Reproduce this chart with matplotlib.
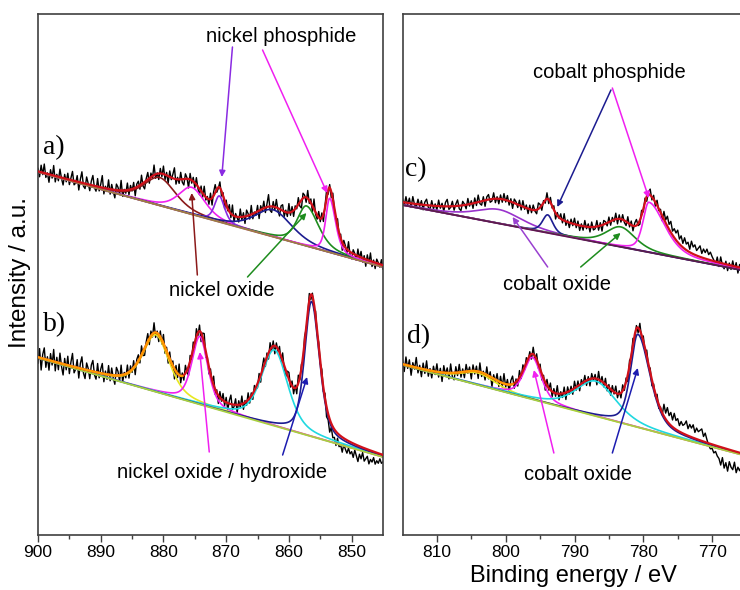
import numpy as np
import matplotlib.pyplot as plt

plt.rcParams['font.family'] = ['Liberation Sans', 'DejaVu Sans']

# measured energy grids (0.25 eV step)
energy_ni = 900 - 0.25 * np.arange(221)
energy_co = 815 - 0.25 * np.arange(201)

# ---- a) Ni 2p, phosphide sample ----
base_a = (363, 268)
cent_a = [880.6, 875.5, 871.1, 862.5, 857.2, 853.5]
high_a = [28, 27, 26, 27, 40, 54]
whi_a = [6.0, 5.0, 1.8, 7.0, 3.5, 1.5]
wlo_a = [6.0, 5.0, 2.0, 7.0, 4.5, 2.2]
noise_a = [3, -5, 7, -2, 9, -4, 1, -8, 5, -3, 10, -6, 2, -4, 8, -1, -7, 4, -3, 6,
           -5, 2, 9, -4, -2, 6, -8, 3, 11, -3, -5, 7, 1, -6, 4, 10, -2, -5, 8, -4,
           3, 12, -6, 2, -3, 9, -5, 5, -2, -8, 6, 3, -4, 10, -6, 1, -3, 7, -5, 4,
           -2, 6, -8, 3, 5, -4, 9, -3, -7, 2, 7, -5, 4, -2, 10, -4, 1, -6, 5, -3,
           8, -5, 3, -7, 6, -2, 4, 11, -5, 2, -4, 7, -3, -6, 5, 1, -9, 6, -3, 4,
           -5, 7, -2, -6, 5, -4, 9, -3, 2, -5, 6, -7, 4, 8, -3, -1, 6, -5, 3, -8,
           5, -2, 7, -4, 10, -6, 3, -1, -5, 8, -3, 4, -7, 6, 2, -4, 9, -5, 1, -3,
           6, -8, 4, -2, 7, -5, 3, 12, -4, -6, 5, -3, 8, -2, -7, 4, 6, -5, 2, -4,
           9, -3, 5, -6, 3, -2, 7, -4, -8, 5, 2, -5, 8, -3, 4, -6, 10, -2, -4, 6,
           -3, 5, -7, 2, 8, -4, 3, -6, 6, -1, -5, 7, -3, 4, -8, 5, 2, -4, 9, -3,
           -6, 4, 1, -5, 7, -2, 6, -4, 3, -7, 5, -3, 8, -5, 2, -6, 4, 1, -3, 5,
           -4]

# ---- b) Ni 2p, oxide / hydroxide sample ----
base_b = (177, 78)
cent_b = [881.2, 874.2, 862.3, 856.4]
high_b = [57, 68, 76, 135]
whi_b = [5.0, 3.0, 5.0, 2.6]
wlo_b = [5.0, 3.0, 5.0, 3.0]
noise_b = [-6, 9, -12, 4, 11, -8, 3, -10, 7, -4, 12, -9, 5, -7, 10, -3, -11, 6, -5, 9,
           -8, 4, 13, -6, -2, 8, -10, 5, 12, -4, -9, 7, 2, -8, 6, 11, -3, -7, 9, -5,
           4, 10, -8, 3, -5, 9, -6, 7, -3, -9, 8, 4, -6, 10, -7, 2, -4, 8, -6, 5,
           -3, 7, -9, 4, 6, -5, 9, -4, -7, 3, 8, -6, 5, -3, 10, -5, 2, -7, 6, -4,
           9, -6, 4, -8, 7, -3, 5, -10, 6, -4, 11, -7, 3, -5, 8, -2, -9, 6, -4, 7,
           -5, 8, -3, 6, -9, 4, 10, -6, 2, -7, 5, -3, 9, -5, 3, -8, 6, -2, 7, -4,
           5, -7, 3, 9, -5, -2, 6, -8, 4, -3, 8, -6, 2, -4, 7, -5, 3, -6, 5, -2,
           -4, 6, -7, 3, 8, -5, 4, -6, 7, -3, 5, -8, 4, -2, 6, -5, 8, -3, -6, 4,
           7, -4, 5, -6, 3, -7, 8, -3, 4, -5, 6, -2, -4, 7, -5, 3, -6, 5, -3, 4,
           -2, 6, -4, 5, -10, -6, -13, -4, -11, -8, -14, -5, -12, -9, -15, -6, -10, -13, -7, -12,
           -9, -14, -6, -11, -16, -8, -12, -5, -13, -10, -7, -14, -9, -11, -6, -12, -8, -10, -5, -9,
           -7]

# ---- c) Co 2p, phosphide sample ----
base_c = (330, 264)
cent_c = [801.0, 793.9, 783.3, 779.2]
high_c = [14, 18, 20, 50]
whi_c = [8.0, 1.8, 5.0, 2.0]
wlo_c = [8.0, 1.8, 5.0, 5.5]
sat_c = (795.0, 13, 22.0)  # broad satellite (in envelope only)
noise_c = [4, -3, 6, -2, 5, -4, 7, -1, -3, 5, -2, 4, -5, 3, 6, -2, -4, 5, -3, 2,
           -4, 6, -2, 3, -5, 4, 7, -3, -1, 5, -4, 2, 6, -3, -5, 4, 1, -4, 6, -2,
           3, -5, 5, -3, 7, -2, -4, 4, -6, 3, 5, -3, -2, 6, -4, 2, -5, 4, -3, 6,
           -2, 5, -4, 3, -6, 4, 2, -3, 5, -4, 6, -2, 3, -5, 4, -3, 5, -1, -4, 6,
           3, -5, 2, -3, 6, -4, 5, -2, 4, -6, 3, -1, 5, -3, 7, -4, 2, -5, 4, -2,
           6, -3, 4, -5, 2, -4, 6, -2, 3, -5, 5, -3, -2, 6, -4, 3, -6, 4, 2, -3,
           5, -4, 3, -2, 6, -5, 4, -3, 5, -2, -4, 6, -3, 4, -5, 3, 6, -2, -4, 5,
           -3, 4, -5, 2, 6, -3, 4, -4, 5, -2, 3, -5, 8, 3, 10, 5, 11, 4, 9, 7,
           12, 5, 10, 4, 11, 6, 9, 3, 12, 7, 10, 5, 8, 11, 4, 9, 6, 10, 5, 8,
           4, 1, -3, 5, -4, 6, -2, -5, 3, -6, 2, -4, 5, -3, 4, -6, 3, -2, 5, -4,
           2]

# ---- d) Co 2p, oxide sample ----
base_d = (170, 79)
cent_d = [804.0, 796.1, 786.9, 780.8]
high_d = [12, 42, 35, 93]
whi_d = [6.0, 3.0, 7.0, 2.5]
wlo_d = [6.0, 3.0, 7.0, 4.2]
noise_d = [5, -7, 8, -3, 6, -9, 4, -2, 10, -5, 3, -8, 6, -4, 9, -6, 2, -7, 5, -3,
           8, -5, 4, -9, 7, -2, 5, -6, 9, -4, -7, 6, -3, 8, -5, 3, -6, 7, -2, 4,
           -8, 6, -3, 5, -7, 9, -4, 2, -6, 8, -3, 5, -9, 4, -2, 7, -5, 6, -4, 10,
           -3, 5, -7, 4, 8, -5, 3, -6, 7, -4, 6, -3, 5, -2, 4, -5, 7, -3, 6, -4,
           5, -6, 3, -8, 6, -2, 7, -5, 4, -3, 8, -6, 2, -4, 6, -7, 5, -3, 4, -5,
           7, -3, 5, -6, 4, -2, 6, -5, 3, -7, 5, -2, 4, -6, 8, -3, 5, -4, 6, -5,
           3, -6, 5, -2, 7, -4, 3, -5, 6, -3, 4, -7, 5, -2, 6, -4, 3, -5, 7, -3,
           5, -4, 6, -2, 4, -6, 3, -3, 5, -4, 2, -2, 12, 6, 14, 8, 13, 7, 15, 9,
           12, 6, 11, 8, 10, 14, 7, 12, 9, 13, 6, 11, 8, 10, 12, 5, 9, 3, -2, -5,
           -4, -8, -6, -10, -12, -18, -10, -20, -14, -22, -12, -17, -19, -11, -21, -15, -18, -13, -20, -16,
           -19]


def pv(E, c, h, w_hi, w_lo, eta=0.5):
    w = np.where(E >= c, w_hi, w_lo)
    u = (E - c) / w
    return h * (eta / (1 + 4 * u**2) + (1 - eta) * np.exp(-4 * np.log(2) * u**2))


def spectrum(ax, E_raw, noise, base, cents, highs, whis, wlos, colors, base_col,
             orange_from=None, sat=None):
    E0, E1 = E_raw[0], E_raw[-1]
    fine = np.linspace(E0, E1, 1101)
    bl = lambda E: base[0] + (base[1] - base[0]) * (E0 - E) / (E0 - E1)
    comps = [pv(fine, c, h, a, b) for c, h, a, b in zip(cents, highs, whis, wlos)]
    raw = sum(pv(E_raw, c, h, a, b) for c, h, a, b in zip(cents, highs, whis, wlos))
    env = bl(fine) + sum(comps)
    if sat is not None:
        env = env + pv(fine, sat[0], sat[1], sat[2], sat[2])
        raw = raw + pv(E_raw, sat[0], sat[1], sat[2], sat[2])
    ax.plot(E_raw, bl(E_raw) + raw + np.array(noise), color='black', lw=1.0, zorder=1)
    for comp, col in zip(comps, colors):
        ax.plot(fine, bl(fine) + comp, color=col, lw=1.2, zorder=2)
    ax.plot(fine, bl(fine), color=base_col, lw=1.3, zorder=2.5)
    ax.plot(fine, env, color='#D0101A', lw=1.6, zorder=3)
    if orange_from is not None:
        m = fine >= orange_from
        ax.plot(fine[m], env[m], color='#FF9A00', lw=1.6, zorder=3.5)


def arrow(ax, start, end, col):
    ax.annotate('', xy=end, xytext=start,
                arrowprops=dict(arrowstyle='-|>', color=col, lw=1.1,
                                mutation_scale=9, shrinkA=0, shrinkB=0), zorder=5)


MAG, NAVY, VIO, GRN, BRN = '#F020F0', '#1C1C90', '#8A2BE2', '#1E8C1E', '#8B1A1A'
YEL, CYN = '#E8E820', '#20D8E0'

fig = plt.figure(figsize=(7.4, 5.9), dpi=100)
axL = fig.add_axes([38 / 740, 55 / 590, 345 / 740, 521 / 590])
axR = fig.add_axes([402.5 / 740, 55 / 590, 344 / 740, 521 / 590])

spectrum(axL, energy_ni, noise_a, base_a, cent_a, high_a, whi_a, wlo_a,
         [BRN, MAG, VIO, NAVY, GRN, MAG], '#9C8040')
spectrum(axL, energy_ni, noise_b, base_b, cent_b, high_b, whi_b, wlo_b,
         [YEL, MAG, CYN, NAVY], '#A8D040', orange_from=877)
spectrum(axR, energy_co, noise_c, base_c, cent_c, high_c, whi_c, wlo_c,
         ['#9932CC', NAVY, GRN, MAG], '#5A1E4A', sat=sat_c)
spectrum(axR, energy_co, noise_d, base_d, cent_d, high_d, whi_d, wlo_d,
         [YEL, MAG, CYN, NAVY], '#A8D040', orange_from=799)

for ax, lim in ((axL, (900, 845)), (axR, (815, 765))):
    ax.set_xlim(*lim)
    ax.set_ylim(0, 521)
    ax.set_yticks([])
    ax.tick_params(axis='x', direction='out', length=5, width=1, labelsize=12.5,
                   color='#404040', pad=2.5)
    ax.tick_params(axis='x', which='minor', direction='out', length=3, width=1,
                   color='#404040')
    for s in ax.spines.values():
        s.set_color('#404040')
        s.set_linewidth(1.2)
axL.set_xticks([900, 890, 880, 870, 860, 850])
axL.set_xticks([895, 885, 875, 865, 855], minor=True)
axR.set_xticks([810, 800, 790, 780, 770])
axR.set_xticks([805, 795, 785, 775], minor=True)

serif = ['Liberation Serif', 'DejaVu Serif']
axL.text(899.2, 387, 'a)', family=serif, fontsize=20, va='center', ha='left')
axL.text(899.2, 210, 'b)', family=serif, fontsize=20, va='center', ha='left')
axR.text(814.7, 365, 'c)', family=serif, fontsize=20, va='center', ha='left')
axR.text(814.4, 198, 'd)', family=serif, fontsize=20, va='center', ha='left')

fs = 14.5
axL.text(861.2, 498, 'nickel phosphide', fontsize=fs, ha='center', va='center')
axL.text(870.7, 245, 'nickel oxide', fontsize=fs, ha='center', va='center')
axL.text(870.7, 63, 'nickel oxide / hydroxide', fontsize=fs, ha='center', va='center')
axR.text(785.0, 463, 'cobalt phosphide', fontsize=fs, ha='center', va='center')
axR.text(792.5, 250, 'cobalt oxide', fontsize=fs, ha='center', va='center')
axR.text(789.5, 60, 'cobalt oxide', fontsize=fs, ha='center', va='center')

arrow(axL, (869.0, 488), (870.7, 358), VIO)
arrow(axL, (864.2, 485), (853.9, 342), MAG)
arrow(axL, (874.6, 260), (875.5, 342), BRN)
arrow(axL, (866.6, 258), (857.2, 322), GRN)
arrow(axL, (872.7, 83), (874.2, 183), MAG)
arrow(axL, (861.0, 80), (857.1, 158), '#1C1CB0')
arrow(axR, (784.7, 445), (792.5, 328), NAVY)
arrow(axR, (784.5, 447), (779.2, 337), MAG)
arrow(axR, (793.9, 268), (799.0, 318), '#9940D0')
arrow(axR, (789.1, 268), (783.3, 302), GRN)
arrow(axR, (793.0, 82), (795.9, 165), MAG)
arrow(axR, (784.5, 82), (780.8, 167), '#1C1CB0')

fig.text(20 / 740, 1 - 273 / 590, 'Intensity / a.u.', rotation=90, fontsize=17.5,
         ha='center', va='center')
fig.text(573 / 740, 1 - 576 / 590, 'Binding energy / eV', fontsize=17,
         ha='center', va='center')

fig.savefig('out.png', dpi=100)
